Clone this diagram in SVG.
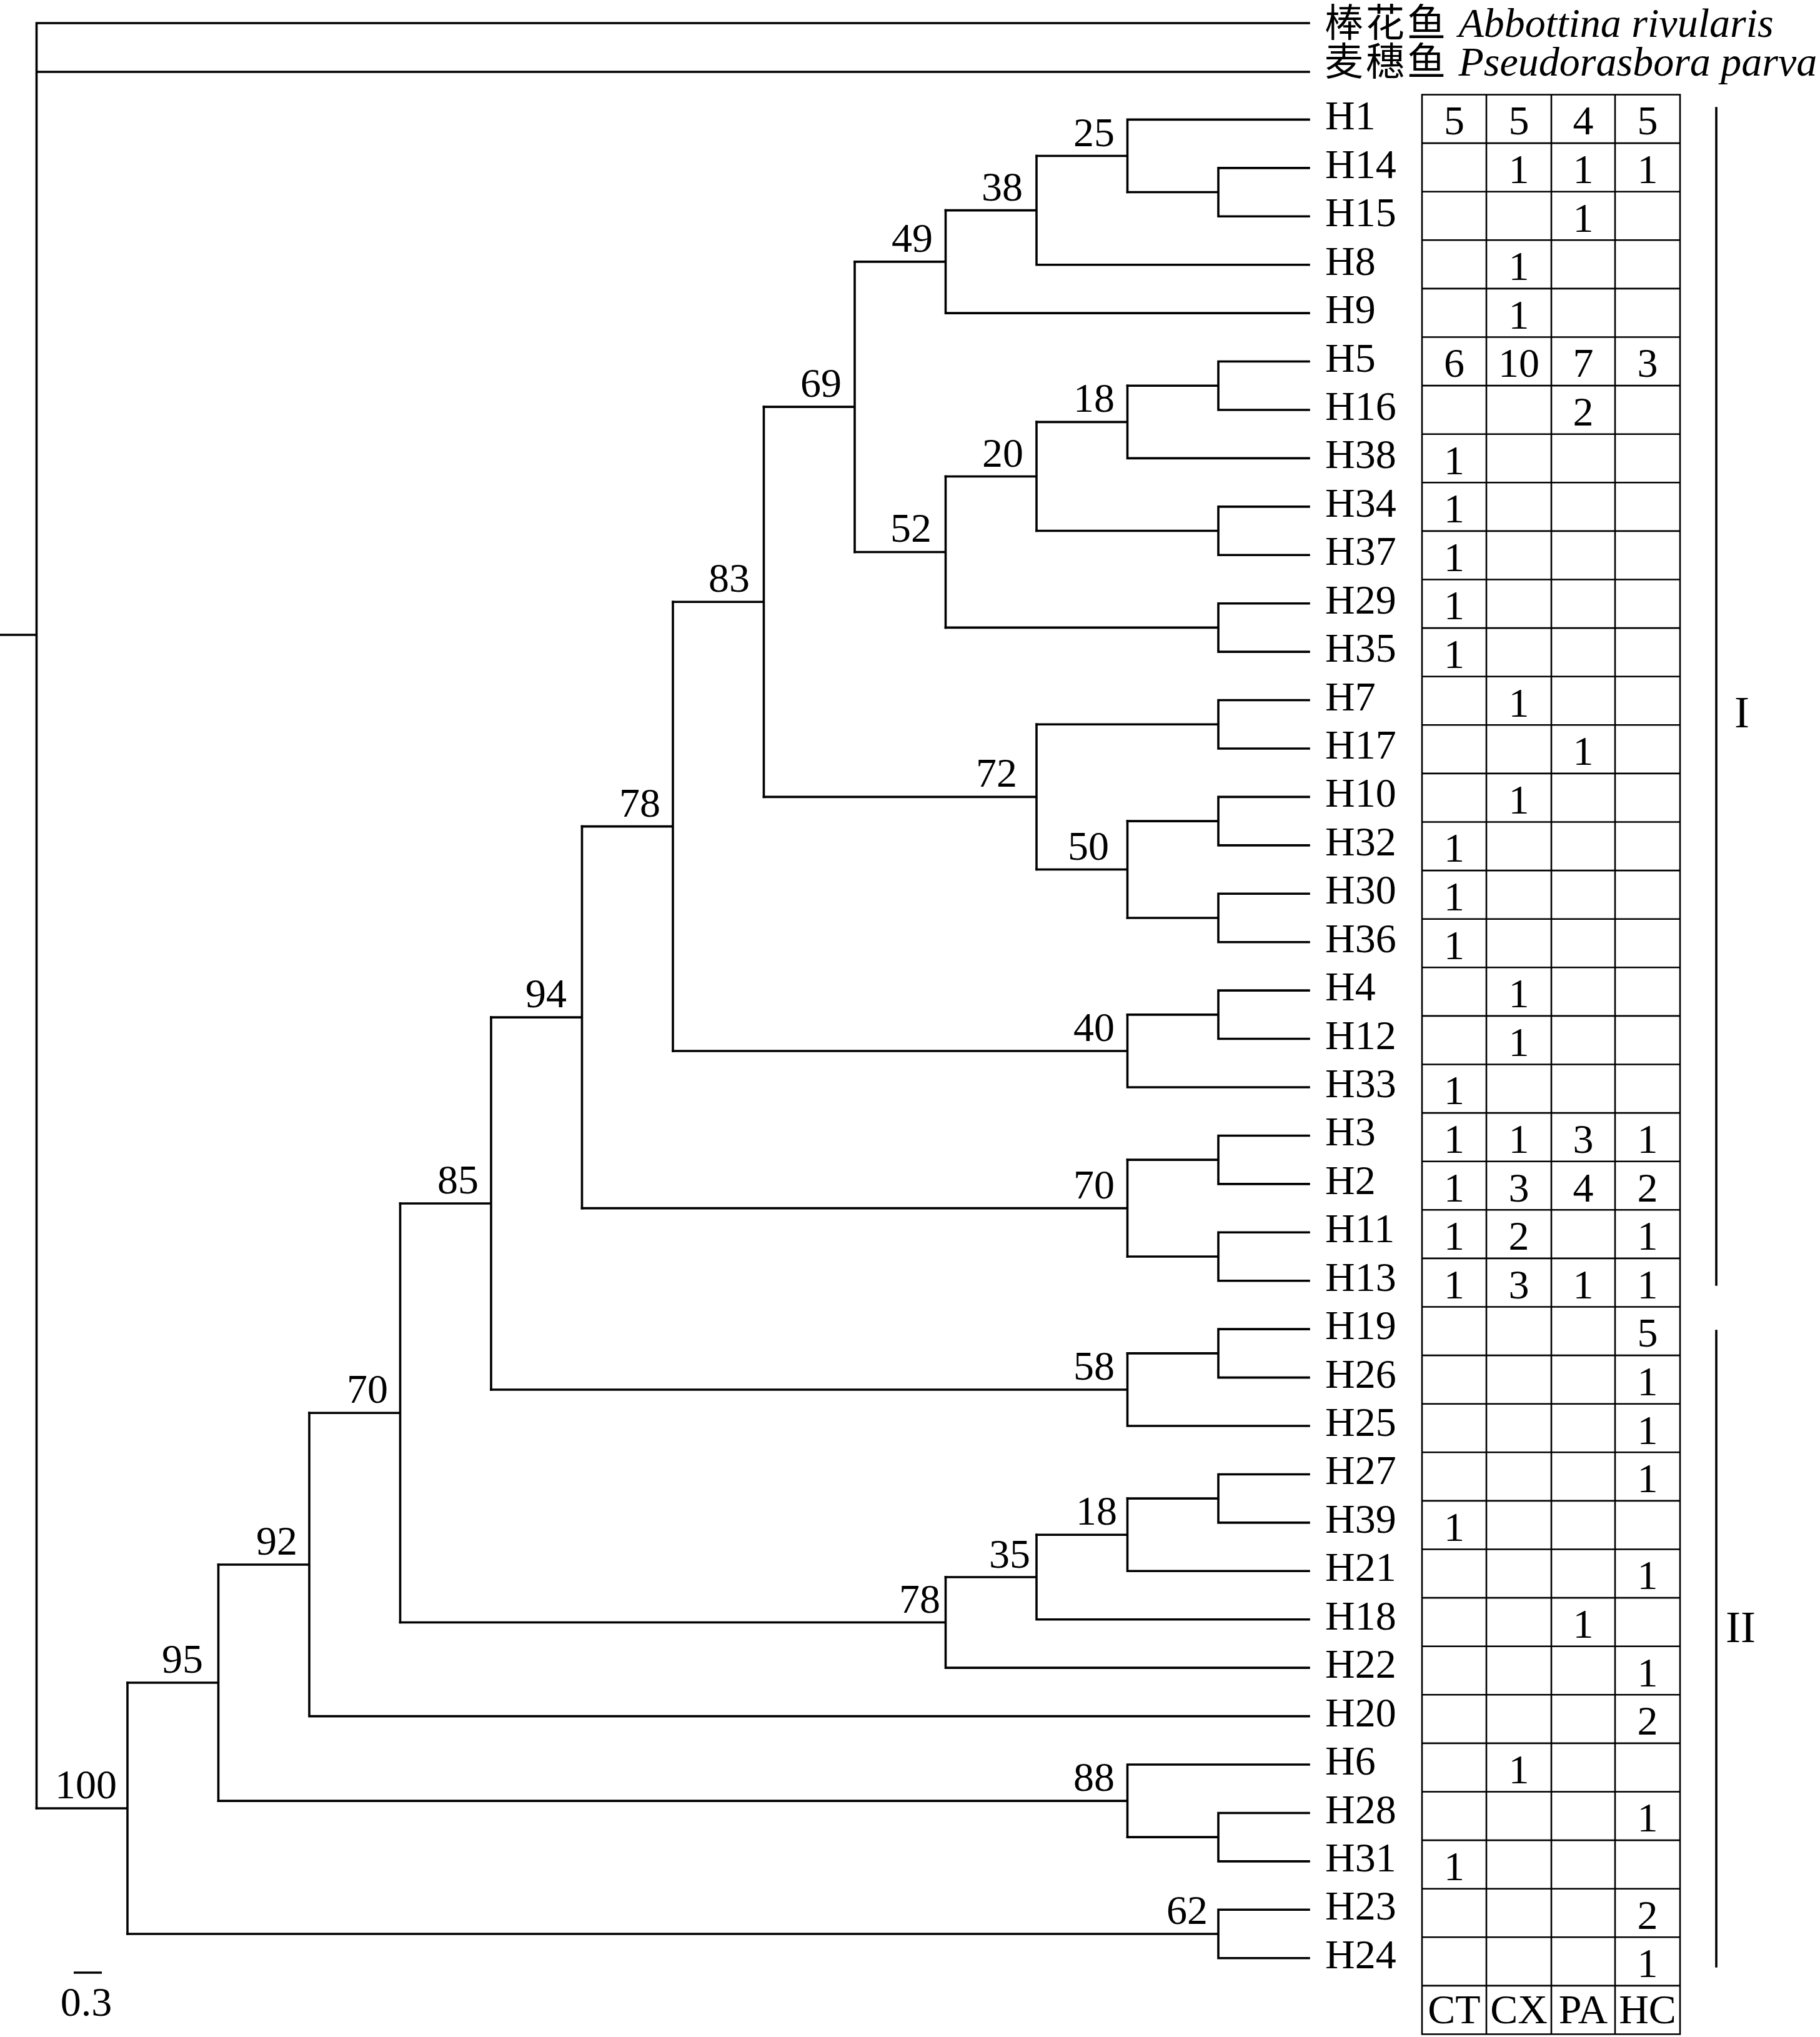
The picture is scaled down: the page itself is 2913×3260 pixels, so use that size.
<svg xmlns="http://www.w3.org/2000/svg" width="2913" height="3260" viewBox="0 0 2913 3260">
<style>
.br{stroke:#000;stroke-width:3.6;fill:none;stroke-linecap:square}
.tb{stroke:#000;stroke-width:2.6;fill:none}
.t{font-family:"Liberation Serif","Times New Roman",serif;font-size:66px;fill:#000}
.e{text-anchor:end}
.m{text-anchor:middle}
.cjk{font-family:"Noto Sans CJK SC",sans-serif;font-size:62px;letter-spacing:4px}
.it{font-style:italic}
</style>
<rect width="2913" height="3260" fill="#fff"/>
<g id="connectors">
<path class="br" d="M0,1016 H58.5 M58.5,37 V2894.03 M58.5,37 H2095 M58.5,115 H2095"/>
<path id="c-n100" class="br" d="M58.5,2894.03 H204 M204,2693.02 V3095.03"/>
<path id="c-n95" class="br" d="M204,2693.02 H349.5 M349.5,2503.94 V2882.1"/>
<path id="c-n92" class="br" d="M349.5,2503.94 H495 M495,2261.29 V2746.59 M495,2746.59 H2095"/>
<path id="c-n70b" class="br" d="M495,2261.29 H640.5 M640.5,1926.01 V2596.57"/>
<path id="c-n85" class="br" d="M640.5,1926.01 H786 M786,1628.09 V2223.94"/>
<path id="c-n94" class="br" d="M786,1628.09 H931.5 M931.5,1322.6 V1933.58"/>
<path id="c-n78a" class="br" d="M931.5,1322.6 H1077 M1077,963.28 V1681.93"/>
<path id="c-n83" class="br" d="M1077,963.28 H1222.5 M1222.5,651.14 V1275.42"/>
<path id="c-n69" class="br" d="M1222.5,651.14 H1368 M1368,418.85 V883.43"/>
<path id="c-n49" class="br" d="M1368,418.85 H1513.5 M1513.5,336.58 V501.12 M1513.5,501.12 H2095"/>
<path id="c-n38" class="br" d="M1513.5,336.58 H1659 M1659,249.47 V423.69 M1659,423.69 H2095"/>
<path id="c-n25" class="br" d="M1659,249.47 H1804.5 M1804.5,191.4 V307.55 M1804.5,191.4 H2095"/>
<path id="c-n14_15" class="br" d="M1804.5,307.55 H1950 M1950,268.83 V346.26 M1950,268.83 H2095 M1950,346.26 H2095"/>
<path id="c-n52" class="br" d="M1368,883.43 H1513.5 M1513.5,762.45 V1004.42"/>
<path id="c-n20" class="br" d="M1513.5,762.45 H1659 M1659,675.34 V849.56"/>
<path id="c-n18a" class="br" d="M1659,675.34 H1804.5 M1804.5,617.27 V733.41 M1804.5,733.41 H2095"/>
<path id="c-n5_16" class="br" d="M1804.5,617.27 H1950 M1950,578.55 V655.98 M1950,578.55 H2095 M1950,655.98 H2095"/>
<path id="c-n34_37" class="br" d="M1659,849.56 H1950 M1950,810.84 V888.27 M1950,810.84 H2095 M1950,888.27 H2095"/>
<path id="c-n29_35" class="br" d="M1513.5,1004.42 H1950 M1950,965.7 V1043.13 M1950,965.7 H2095 M1950,1043.13 H2095"/>
<path id="c-n72" class="br" d="M1222.5,1275.42 H1659 M1659,1159.28 V1391.57"/>
<path id="c-n7_17" class="br" d="M1659,1159.28 H1950 M1950,1120.56 V1197.99 M1950,1120.56 H2095 M1950,1197.99 H2095"/>
<path id="c-n50" class="br" d="M1659,1391.57 H1804.5 M1804.5,1314.14 V1469"/>
<path id="c-n10_32" class="br" d="M1804.5,1314.14 H1950 M1950,1275.42 V1352.85 M1950,1275.42 H2095 M1950,1352.85 H2095"/>
<path id="c-n30_36" class="br" d="M1804.5,1469 H1950 M1950,1430.28 V1507.71 M1950,1430.28 H2095 M1950,1507.71 H2095"/>
<path id="c-n40" class="br" d="M1077,1681.93 H1804.5 M1804.5,1623.86 V1740 M1804.5,1740 H2095"/>
<path id="c-n4_12" class="br" d="M1804.5,1623.86 H1950 M1950,1585.14 V1662.57 M1950,1585.14 H2095 M1950,1662.57 H2095"/>
<path id="c-n70a" class="br" d="M931.5,1933.58 H1804.5 M1804.5,1856.15 V2011"/>
<path id="c-n3_2" class="br" d="M1804.5,1856.15 H1950 M1950,1817.43 V1894.86 M1950,1817.43 H2095 M1950,1894.86 H2095"/>
<path id="c-n11_13" class="br" d="M1804.5,2011 H1950 M1950,1972.29 V2049.72 M1950,1972.29 H2095 M1950,2049.72 H2095"/>
<path id="c-n58" class="br" d="M786,2223.94 H1804.5 M1804.5,2165.87 V2282.01 M1804.5,2282.01 H2095"/>
<path id="c-n19_26" class="br" d="M1804.5,2165.87 H1950 M1950,2127.15 V2204.58 M1950,2127.15 H2095 M1950,2204.58 H2095"/>
<path id="c-n78b" class="br" d="M640.5,2596.57 H1513.5 M1513.5,2523.98 V2669.16 M1513.5,2669.16 H2095"/>
<path id="c-n35" class="br" d="M1513.5,2523.98 H1659 M1659,2456.23 V2591.73 M1659,2591.73 H2095"/>
<path id="c-n18b" class="br" d="M1659,2456.23 H1804.5 M1804.5,2398.16 V2514.3 M1804.5,2514.3 H2095"/>
<path id="c-n27_39" class="br" d="M1804.5,2398.16 H1950 M1950,2359.44 V2436.87 M1950,2359.44 H2095 M1950,2436.87 H2095"/>
<path id="c-n88" class="br" d="M349.5,2882.1 H1804.5 M1804.5,2824.02 V2940.17 M1804.5,2824.02 H2095"/>
<path id="c-n28_31" class="br" d="M1804.5,2940.17 H1950 M1950,2901.45 V2978.88 M1950,2901.45 H2095 M1950,2978.88 H2095"/>
<path id="c-n62" class="br" d="M204,3095.03 H1950 M1950,3056.31 V3133.74 M1950,3056.31 H2095 M1950,3133.74 H2095"/>
</g>
<g id="support-values" class="t e">
<g id="node-n25"><text x="1784" y="233.5">25</text></g>
<g id="node-n38"><text x="1637" y="320.6">38</text></g>
<g id="node-n49"><text x="1493" y="402.9">49</text></g>
<g id="node-n69"><text x="1347" y="635.1">69</text></g>
<g id="node-n18a"><text x="1784" y="659.3">18</text></g>
<g id="node-n20"><text x="1638" y="746.5">20</text></g>
<g id="node-n52"><text x="1491" y="867.4">52</text></g>
<g id="node-n83"><text x="1200" y="947.3">83</text></g>
<g id="node-n72"><text x="1628" y="1259.4">72</text></g>
<g id="node-n50"><text x="1775" y="1375.6">50</text></g>
<g id="node-n78a"><text x="1057" y="1306.6">78</text></g>
<g id="node-n40"><text x="1784" y="1665.9">40</text></g>
<g id="node-n94"><text x="907" y="1612.1">94</text></g>
<g id="node-n70a"><text x="1784" y="1917.6">70</text></g>
<g id="node-n85"><text x="766" y="1910">85</text></g>
<g id="node-n58"><text x="1784" y="2207.9">58</text></g>
<g id="node-n70b"><text x="621" y="2245.3">70</text></g>
<g id="node-n18b"><text x="1788" y="2440.2">18</text></g>
<g id="node-n35"><text x="1649" y="2509">35</text></g>
<g id="node-n78b"><text x="1505" y="2580.6">78</text></g>
<g id="node-n92"><text x="476" y="2487.9">92</text></g>
<g id="node-n95"><text x="325" y="2677">95</text></g>
<g id="node-n88"><text x="1784" y="2866.1">88</text></g>
<g id="node-n62"><text x="1933" y="3079">62</text></g>
<g id="node-n100"><text x="187" y="2878">100</text></g>
</g>
<g id="outgroups" class="t">
<g id="leaf-abbottina"><text x="2120" y="59"><tspan class="cjk">棒花鱼</tspan> <tspan class="it">Abbottina rivularis</tspan></text></g>
<g id="leaf-pseudorasbora"><text x="2120" y="121"><tspan class="cjk">麦穗鱼</tspan> <tspan class="it">Pseudorasbora parva</tspan></text></g>
</g>
<g id="leaves" class="t">
<g id="leaf-H1"><text x="2121" y="207.4">H1</text></g>
<g id="leaf-H14"><text x="2121" y="284.8">H14</text></g>
<g id="leaf-H15"><text x="2121" y="362.3">H15</text></g>
<g id="leaf-H8"><text x="2121" y="439.7">H8</text></g>
<g id="leaf-H9"><text x="2121" y="517.1">H9</text></g>
<g id="leaf-H5"><text x="2121" y="594.6">H5</text></g>
<g id="leaf-H16"><text x="2121" y="672">H16</text></g>
<g id="leaf-H38"><text x="2121" y="749.4">H38</text></g>
<g id="leaf-H34"><text x="2121" y="826.8">H34</text></g>
<g id="leaf-H37"><text x="2121" y="904.3">H37</text></g>
<g id="leaf-H29"><text x="2121" y="981.7">H29</text></g>
<g id="leaf-H35"><text x="2121" y="1059.1">H35</text></g>
<g id="leaf-H7"><text x="2121" y="1136.6">H7</text></g>
<g id="leaf-H17"><text x="2121" y="1214">H17</text></g>
<g id="leaf-H10"><text x="2121" y="1291.4">H10</text></g>
<g id="leaf-H32"><text x="2121" y="1368.9">H32</text></g>
<g id="leaf-H30"><text x="2121" y="1446.3">H30</text></g>
<g id="leaf-H36"><text x="2121" y="1523.7">H36</text></g>
<g id="leaf-H4"><text x="2121" y="1601.1">H4</text></g>
<g id="leaf-H12"><text x="2121" y="1678.6">H12</text></g>
<g id="leaf-H33"><text x="2121" y="1756">H33</text></g>
<g id="leaf-H3"><text x="2121" y="1833.4">H3</text></g>
<g id="leaf-H2"><text x="2121" y="1910.9">H2</text></g>
<g id="leaf-H11"><text x="2121" y="1988.3">H11</text></g>
<g id="leaf-H13"><text x="2121" y="2065.7">H13</text></g>
<g id="leaf-H19"><text x="2121" y="2143.2">H19</text></g>
<g id="leaf-H26"><text x="2121" y="2220.6">H26</text></g>
<g id="leaf-H25"><text x="2121" y="2298">H25</text></g>
<g id="leaf-H27"><text x="2121" y="2375.4">H27</text></g>
<g id="leaf-H39"><text x="2121" y="2452.9">H39</text></g>
<g id="leaf-H21"><text x="2121" y="2530.3">H21</text></g>
<g id="leaf-H18"><text x="2121" y="2607.7">H18</text></g>
<g id="leaf-H22"><text x="2121" y="2685.2">H22</text></g>
<g id="leaf-H20"><text x="2121" y="2762.6">H20</text></g>
<g id="leaf-H6"><text x="2121" y="2840">H6</text></g>
<g id="leaf-H28"><text x="2121" y="2917.5">H28</text></g>
<g id="leaf-H31"><text x="2121" y="2994.9">H31</text></g>
<g id="leaf-H23"><text x="2121" y="3072.3">H23</text></g>
<g id="leaf-H24"><text x="2121" y="3149.7">H24</text></g>
</g>
<g id="table">
<path class="tb" d="M2276,151.5 H2689 V3255.5 H2276 Z M2379,151.5 V3255.5 M2483,151.5 V3255.5 M2585,151.5 V3255.5
M2276,229.1 H2689 M2276,306.7 H2689 M2276,384.3 H2689 M2276,461.9 H2689 M2276,539.5 H2689 M2276,617.1 H2689 M2276,694.7 H2689 M2276,772.3 H2689 M2276,849.9 H2689 M2276,927.5 H2689
M2276,1005.1 H2689 M2276,1082.7 H2689 M2276,1160.3 H2689 M2276,1237.9 H2689 M2276,1315.5 H2689 M2276,1393.1 H2689 M2276,1470.7 H2689 M2276,1548.3 H2689 M2276,1625.9 H2689 M2276,1703.5 H2689
M2276,1781.1 H2689 M2276,1858.7 H2689 M2276,1936.3 H2689 M2276,2013.9 H2689 M2276,2091.5 H2689 M2276,2169.1 H2689 M2276,2246.7 H2689 M2276,2324.3 H2689 M2276,2401.9 H2689 M2276,2479.5 H2689
M2276,2557.1 H2689 M2276,2634.7 H2689 M2276,2712.3 H2689 M2276,2789.9 H2689 M2276,2867.5 H2689 M2276,2945.1 H2689 M2276,3022.7 H2689 M2276,3100.3 H2689 M2276,3177.9 H2689"/>
<g class="t m">
<text x="2327.5" y="215.3">5</text><text x="2431" y="215.3">5</text><text x="2534" y="215.3">4</text><text x="2637" y="215.3">5</text>
<text x="2431" y="292.9">1</text><text x="2534" y="292.9">1</text><text x="2637" y="292.9">1</text>
<text x="2534" y="370.5">1</text>
<text x="2431" y="448.1">1</text>
<text x="2431" y="525.7">1</text>
<text x="2327.5" y="603.3">6</text><text x="2431" y="603.3">10</text><text x="2534" y="603.3">7</text><text x="2637" y="603.3">3</text>
<text x="2534" y="680.9">2</text>
<text x="2327.5" y="758.5">1</text>
<text x="2327.5" y="836.1">1</text>
<text x="2327.5" y="913.7">1</text>
<text x="2327.5" y="991.3">1</text>
<text x="2327.5" y="1068.9">1</text>
<text x="2431" y="1146.5">1</text>
<text x="2534" y="1224.1">1</text>
<text x="2431" y="1301.7">1</text>
<text x="2327.5" y="1379.3">1</text>
<text x="2327.5" y="1456.9">1</text>
<text x="2327.5" y="1534.5">1</text>
<text x="2431" y="1612.1">1</text>
<text x="2431" y="1689.7">1</text>
<text x="2327.5" y="1767.3">1</text>
<text x="2327.5" y="1844.9">1</text><text x="2431" y="1844.9">1</text><text x="2534" y="1844.9">3</text><text x="2637" y="1844.9">1</text>
<text x="2327.5" y="1922.5">1</text><text x="2431" y="1922.5">3</text><text x="2534" y="1922.5">4</text><text x="2637" y="1922.5">2</text>
<text x="2327.5" y="2000.1">1</text><text x="2431" y="2000.1">2</text><text x="2637" y="2000.1">1</text>
<text x="2327.5" y="2077.7">1</text><text x="2431" y="2077.7">3</text><text x="2534" y="2077.7">1</text><text x="2637" y="2077.7">1</text>
<text x="2637" y="2155.3">5</text>
<text x="2637" y="2232.9">1</text>
<text x="2637" y="2310.5">1</text>
<text x="2637" y="2388.1">1</text>
<text x="2327.5" y="2465.7">1</text>
<text x="2637" y="2543.3">1</text>
<text x="2534" y="2620.9">1</text>
<text x="2637" y="2698.5">1</text>
<text x="2637" y="2776.1">2</text>
<text x="2431" y="2853.7">1</text>
<text x="2637" y="2931.3">1</text>
<text x="2327.5" y="3008.9">1</text>
<text x="2637" y="3086.5">2</text>
<text x="2637" y="3164.1">1</text>
<text x="2327.5" y="3238">CT</text><text x="2431" y="3238">CX</text><text x="2534" y="3238">PA</text><text x="2637" y="3238">HC</text>
</g>
</g>
<g id="clades">
<path class="br" d="M2747,173 V2056 M2747,2130 V3147"/>
<g id="clade-I"><text class="t m" x="2788" y="1164" style="font-size:72px">I</text></g>
<g id="clade-II"><text class="t m" x="2786" y="2628" style="font-size:72px">II</text></g>
</g>
<g id="scale-bar">
<path class="tb" d="M118,3157 H163" style="stroke-width:3.5"/>
<text class="t m" x="138" y="3226">0.3</text>
</g>
</svg>
